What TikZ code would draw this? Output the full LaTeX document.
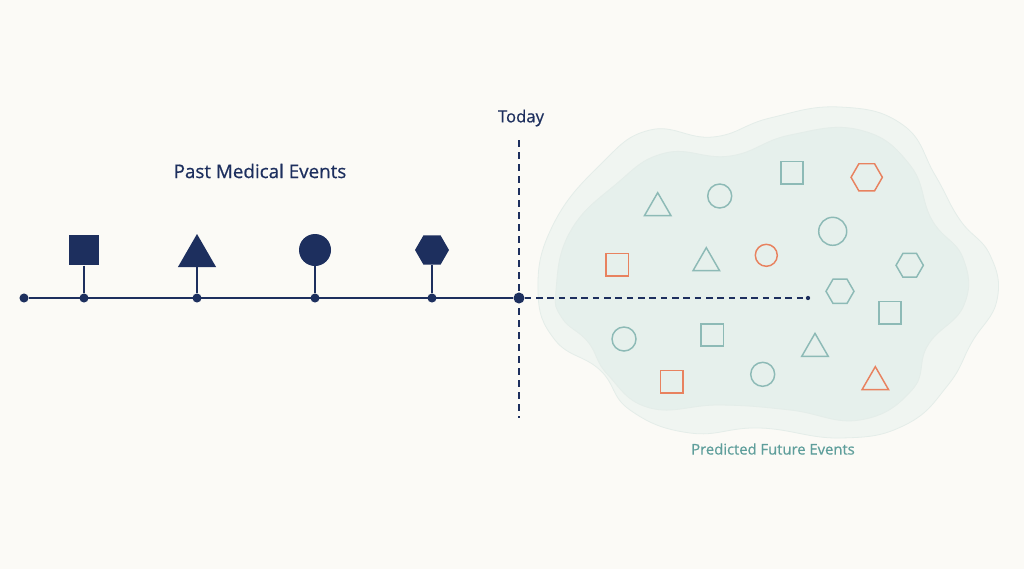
\documentclass[tikz,border=0pt]{standalone}
\usepackage{fontspec}
\setmainfont{Open Sans}
\newfontfamily\labelfont[FakeBold=0.6]{Open Sans}
\usetikzlibrary{shapes.geometric}
\definecolor{bg}{HTML}{FBFAF6}
\definecolor{navy}{HTML}{1D2F5E}
\definecolor{tealc}{HTML}{8DBAB6}
\definecolor{tealtext}{HTML}{5E9E9B}
\definecolor{orangec}{HTML}{E8825F}
\definecolor{cloudout}{HTML}{F0F5F1}
\definecolor{cloudin}{HTML}{E6F0EC}
\definecolor{cloudedge}{HTML}{E4EDE9}
\tikzset{
  tdot/.style={circle,fill=navy,inner sep=0pt,minimum size=6.8pt},
  pastsq/.style={rectangle,fill=navy,inner sep=0pt,minimum size=23pt},
  pasttri/.style={regular polygon,regular polygon sides=3,fill=navy,inner sep=0pt,minimum size=33pt},
  pastci/.style={circle,fill=navy,inner sep=0pt,minimum size=24pt},
  pasthex/.style={regular polygon,regular polygon sides=6,fill=navy,inner sep=0pt,minimum size=25.5pt},
  stem/.style={navy,line width=1.5pt},
  fut/.style={draw=#1,line width=1.1pt,inner sep=0pt},
  fsq/.style={fut=#1,rectangle,minimum size=16.8pt},
  ftri/.style={fut=#1,regular polygon,regular polygon sides=3,minimum size=23pt},
  fci/.style={fut=#1,circle,minimum size=18pt},
  fhex/.style={fut=#1,regular polygon,regular polygon sides=6,minimum size=21pt},
}
\begin{document}
\begin{tikzpicture}[x=0.75pt,y=-0.75pt]
\fill[bg] (0,0) rectangle (1024,569);
\useasboundingbox (0,0) rectangle (1024,569);
% cloud
\filldraw[fill=cloudout,draw=cloudedge,line width=0.6pt] plot[smooth cycle,tension=0.75] coordinates{
 (538,290) (553,225) (600,165) (650,130) (713,137) (770,118) (840,107) (903,125) (935,175)
 (960,220) (990,255) (997,300) (972,342) (948,385) (905,425) (840,438) (760,428) (690,433)
 (630,410) (600,370) (555,340)};
\filldraw[fill=cloudin,draw=cloudedge,line width=0.6pt] plot[smooth cycle,tension=0.75] coordinates{
 (556,290) (570,232) (615,185) (665,153) (730,156) (790,135) (860,130) (910,165) (932,220)
 (963,258) (964,305) (928,345) (912,390) (860,420) (790,410) (720,405) (650,408) (608,375)
 (588,342) (562,318)};
% labels
\node[text=navy,font=\labelfont\fontsize{14.1}{16}\selectfont] (pastlbl) at (260,171) {Past Medical Events};
\node[text=navy,font=\labelfont\fontsize{12.5}{14}\selectfont] (todaylbl) at (521,118) {Today};
\node[text=tealtext,font=\labelfont\fontsize{11.1}{13}\selectfont] (futlbl) at (773,449) {Predicted Future Events};
% timeline dots
\node[tdot] (d0) at (24,298) {};
\node[tdot] (d1) at (84,298) {};
\node[tdot] (d2) at (197,298) {};
\node[tdot] (d3) at (315,298) {};
\node[tdot] (d4) at (432,298) {};
\node[tdot,minimum size=8.3pt] (today) at (519,298) {};
\coordinate (vtop) at (519,140);
\coordinate (vbot) at (519,418);
\node[circle,fill=navy,inner sep=0pt,minimum size=3.2pt] (dend) at (808,298) {};
\draw[stem] (d0) -- (today);
\draw[navy,line width=1.5pt,dash pattern=on 5pt off 4pt] (vtop) -- (vbot);
\draw[navy,line width=1.5pt,dash pattern=on 5pt off 3.5pt] (today) -- (dend);
% past shapes
\node[pastsq] (s1) at (84,250) {};
\node[pasttri] (s2) at (197,256) {};
\node[pastci] (s3) at (315,250) {};
\node[pasthex] (s4) at (432,250) {};
\draw[stem] (s1.south) -- (d1);
\draw[stem] (s2.south) -- (d2);
\draw[stem] (s3.south) -- (d3);
\draw[stem] (s4.south) -- (d4);
% future shapes
\node[ftri=tealc] (f1) at (657.7,208) {};
\node[fci=tealc] (f2) at (719.7,196) {};
\node[fsq=tealc] (f3) at (792,172.7) {};
\node[fhex=orangec,minimum size=23.5pt] (f4) at (866.7,177.3) {};
\node[fci=tealc,minimum size=21pt] (f5) at (832.7,231.3) {};
\node[fsq=orangec] (f6) at (617.3,264.7) {};
\node[ftri=tealc] (f7) at (706.3,263) {};
\node[fci=orangec,minimum size=16.5pt] (f8) at (766.3,255.3) {};
\node[fhex=tealc,minimum size=20.5pt] (f9) at (909.7,265.3) {};
\node[fhex=tealc] (f10) at (840,291.3) {};
\node[fsq=tealc] (f11) at (890,312.7) {};
\node[fci=tealc] (f12) at (624,339) {};
\node[fsq=tealc] (f13) at (712.3,335) {};
\node[ftri=tealc] (f14) at (815,348.7) {};
\node[fsq=orangec] (f15) at (671.7,381.7) {};
\node[fci=tealc] (f16) at (762.7,374.3) {};
\node[ftri=orangec] (f17) at (875.3,382) {};
\end{tikzpicture}
\end{document}
